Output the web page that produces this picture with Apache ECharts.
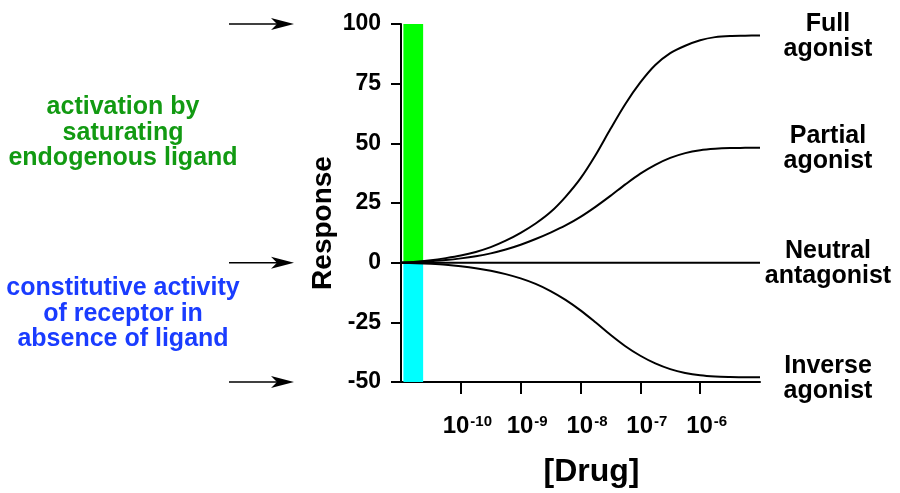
<!DOCTYPE html>
<html>
<head>
<meta charset="utf-8">
<script src="https://cdn.jsdelivr.net/npm/echarts@6.0.0/dist/echarts.min.js"></script>
<style>
  html, body { margin: 0; padding: 0; background: #fff; }
  #main { width: 900px; height: 493px; }
</style>
</head>
<body>
<div id="main"></div>
<script>
// ---- data (x = log10 of drug concentration, M) ----
const xLog = [-11, -10.75, -10.5, -10.25, -10, -9.75, -9.5, -9.25, -9, -8.75, -8.5, -8.25, -8,
              -7.75, -7.5, -7.25, -7, -6.75, -6.5, -6.25, -6, -5.75, -5.5, -5.25, -5];
const fullAgonist = [0, 0.4, 1.0, 1.9, 3.0, 4.5, 6.5, 9.2, 12.5, 16.4, 21.2, 27.6, 35.3,
                     45, 56, 66.5, 75.5, 82.8, 87.8, 90.9, 93.2, 94.5, 95, 95.1, 95.2];
const partialAgonist = [0, 0.2, 0.6, 1.1, 1.8, 2.7, 3.9, 5.5, 7.5, 9.9, 12.6, 15.6, 19.2,
                        23.4, 28.0, 32.8, 37.3, 41.0, 43.9, 45.9, 47.1, 47.7, 48.0, 48.1, 48.2];
const neutralAntagonist = [0, 0, 0, 0, 0, 0, 0, 0, 0, 0, 0, 0, 0,
                           0, 0, 0, 0, 0, 0, 0, 0, 0, 0, 0, 0];
const inverseAgonist = [0, -0.2, -0.5, -0.9, -1.5, -2.3, -3.4, -4.8, -6.6, -8.9, -11.9, -15.6, -20,
                        -25, -30.2, -35.0, -39.0, -42.2, -44.6, -46.2, -47.2, -47.7, -47.9, -48, -48];
const seriesNames = ['Full\nagonist', 'Partial\nagonist', 'Neutral\nantagonist', 'Inverse\nagonist'];
const xTickValues = [-10, -9, -8, -7, -6];
const barXRange = [-10.96, -10.63];
const activationRange = [0, 100];
const constitutiveRange = [-50, 0];
const arrowLevels = [100, 0, -50];
const leftNotes = ['activation by\nsaturating\nendogenous ligand', 'constitutive activity\nof receptor in\nabsence of ligand'];

const FONT = '"Liberation Sans", Arial, Helvetica, sans-serif';
const pair = arr => xLog.map((x, i) => [x, arr[i]]);
const curveStyle = { color: '#000', width: 2 };

const chart = echarts.init(document.getElementById('main'));
const curves = [fullAgonist, partialAgonist, neutralAntagonist, inverseAgonist];

chart.setOption({
  animation: false,
  backgroundColor: '#fff',
  grid: { left: 401, right: 140, top: 24, bottom: 111, containLabel: false },
  xAxis: {
    type: 'value', min: -11, max: -5, interval: 1,
    name: '[Drug]', nameLocation: 'middle', nameGap: 74,
    nameTextStyle: { fontFamily: FONT, fontWeight: 'bold', fontSize: 32, color: '#000', padding: [0, 0, 0, 22] },
    axisLine: { onZero: false, lineStyle: { color: '#000', width: 2 } },
    axisTick: { show: true, length: 12, customValues: xTickValues, lineStyle: { color: '#000', width: 2 } },
    splitLine: { show: false },
    axisLabel: {
      customValues: xTickValues,
      margin: 32,
      padding: [0, 0, 0, 13],
      formatter: v => '{m|10}{s|' + v + '}',
      rich: {
        m: { fontFamily: FONT, fontWeight: 'bold', fontSize: 24, color: '#000', verticalAlign: 'bottom', lineHeight: 24 },
        s: { fontFamily: FONT, fontWeight: 'bold', fontSize: 15, color: '#000', verticalAlign: 'top', lineHeight: 15, padding: [0, 0, 0, 1] }
      }
    }
  },
  yAxis: {
    type: 'value', min: -50, max: 100, interval: 25,
    name: 'Response', nameLocation: 'middle', nameGap: 64, nameRotate: 90,
    nameTextStyle: { fontFamily: FONT, fontWeight: 'bold', fontSize: 28, color: '#000', padding: [0, 40, 0, 0] },
    axisLine: { show: true, lineStyle: { color: '#000', width: 2 } },
    axisTick: { show: true, length: 10, lineStyle: { color: '#000', width: 2 } },
    splitLine: { show: false },
    axisLabel: { margin: 20, fontFamily: FONT, fontWeight: 'bold', fontSize: 23, color: '#000' }
  },
  series: [
    {
      type: 'custom', z: 1, silent: true,
      encode: { x: [0, 1], y: [2, 3] },
      renderItem: (params, api) => {
        const p0 = api.coord([api.value(0), api.value(3)]);
        const p1 = api.coord([api.value(1), api.value(2)]);
        return { type: 'rect', shape: { x: p0[0], y: p0[1], width: p1[0] - p0[0], height: p1[1] - p0[1] },
                 style: { fill: api.visual('color') } };
      },
      data: [
        { value: [barXRange[0], barXRange[1], activationRange[0], activationRange[1]], itemStyle: { color: '#00ff00' } },
        { value: [barXRange[0], barXRange[1], constitutiveRange[0], constitutiveRange[1]], itemStyle: { color: '#00ffff' } }
      ]
    },
    ...curves.map((arr, i) => ({
      type: 'line', name: seriesNames[i], z: 3, showSymbol: false, symbol: 'none',
      smooth: 0.3, silent: true,
      lineStyle: curveStyle, data: pair(arr)
    }))
  ]
});

// ---- annotations placed from the axes ----
const graphics = [];
const plotLeft = chart.convertToPixel({ gridIndex: 0 }, [-11, 0])[0];
arrowLevels.forEach(v => {
  const y = chart.convertToPixel({ gridIndex: 0 }, [-11, v])[1];
  const x1 = plotLeft - 172, x2 = plotLeft - 107;
  graphics.push({ type: 'line', shape: { x1: x1, y1: y, x2: x2 - 12, y2: y }, style: { stroke: '#000', lineWidth: 1.5 } });
  graphics.push({ type: 'polygon', shape: { points: [[x2, y], [x2 - 23, y - 6], [x2 - 17, y], [x2 - 23, y + 6]] }, style: { fill: '#000' } });
});
const lastIdx = xLog.length - 1;
curves.forEach((arr, i) => {
  const y = chart.convertToPixel({ gridIndex: 0 }, [xLog[lastIdx], arr[lastIdx]])[1];
  graphics.push({ type: 'text', x: 828, y: y + 1,
    style: { text: seriesNames[i], fontFamily: FONT, fontWeight: 'bold', fontSize: 25, lineHeight: 25,
             fill: '#000', align: 'center', verticalAlign: 'middle' } });
});
graphics.push({ type: 'text', x: 123, y: 133,
  style: { text: leftNotes[0], fontFamily: FONT, fontWeight: 'bold', fontSize: 25, lineHeight: 25.5,
           fill: '#129a12', align: 'center', verticalAlign: 'middle' } });
graphics.push({ type: 'text', x: 123, y: 314,
  style: { text: leftNotes[1], fontFamily: FONT, fontWeight: 'bold', fontSize: 25, lineHeight: 25.5,
           fill: '#1a3cff', align: 'center', verticalAlign: 'middle' } });
chart.setOption({ graphic: graphics });
</script>
</body>
</html>
